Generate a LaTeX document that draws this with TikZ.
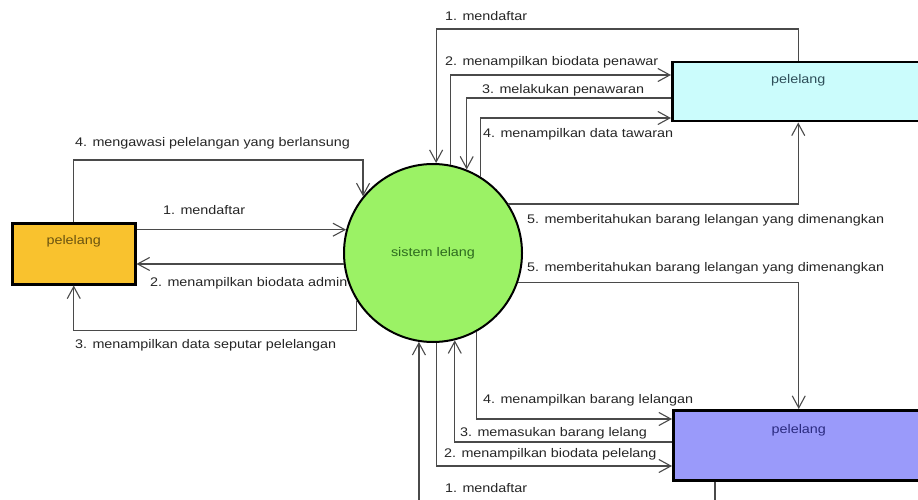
\documentclass[tikz,border=0pt]{standalone}
\usepackage{fontspec}
\usepackage{graphicx}
\setmainfont{Liberation Sans}
\usetikzlibrary{arrows.meta}
\definecolor{linegray}{HTML}{4A4A4A}
\definecolor{labgray}{HTML}{262626}
\definecolor{orangefill}{HTML}{F9C22E}
\definecolor{cyanfill}{HTML}{CBFCFC}
\definecolor{purplefill}{HTML}{9A9AFA}
\definecolor{greenfill}{HTML}{9BF265}
\definecolor{greentext}{HTML}{2E6B1F}
\definecolor{orangetext}{HTML}{6B5410}
\definecolor{cyantext}{HTML}{2F4F5A}
\definecolor{purpletext}{HTML}{2B2B80}
\newcommand\wtxt[1]{\scalebox{1.15}[1]{#1}}
\tikzset{
  flow/.style={draw=linegray, line width=1.2pt, -{Straight Barb[length=12pt,width=13pt,line width=1.1pt]}},
  lab/.style={anchor=west, inner sep=0pt, text=labgray, font=\fontsize{12.5}{14}\selectfont},
  entbox/.style={draw=black, line width=2.5pt, rectangle, inner xsep=0pt, inner ysep=0pt, anchor=north west, font=\fontsize{12.5}{14}\selectfont},
}
\begin{document}
\begin{tikzpicture}[x=1pt,y=-1pt]
\useasboundingbox (0,0) rectangle (918,500);
\clip (0,0) rectangle (918,500);

% nodes
\node[circle, draw=black, line width=2pt, fill=greenfill, minimum size=178pt, inner sep=0pt,
      text=greentext, font=\fontsize{12.5}{14}\selectfont] (c) at (433,253) {\wtxt{sistem lelang}};
\node[entbox, fill=orangefill, text=orangetext, minimum width=123pt, text height=21pt, text depth=40pt] (lb) at (11,222) {\wtxt{pelelang}};
\node[entbox, fill=cyanfill, text=cyantext, minimum width=252pt, text height=21pt, text depth=38pt] (tb) at (671,61) {\wtxt{pelelang}};
\node[entbox, fill=purplefill, text=purpletext, minimum width=251pt, text height=23pt, text depth=47pt] (bb) at (672,409) {\wtxt{pelelang}};

% top box flows
\draw[flow] (tb.north) -- ++(0,-32) -| (c.88.1);
\draw[flow] (c.79.6) |- ([yshift=-14pt]tb.north west);
\draw[flow] ([yshift=-37pt]tb.north west) -| (c.68.9);
\draw[flow] (c.58.1) |- ([yshift=-57pt]tb.north west);
\draw[flow] (c.33.4) -| (tb.south);

% bottom box flows
\draw[flow] (c.-19) -| (bb.north);
\draw[flow] (c.-61.1) |- ([yshift=-10pt]bb.north west);
\draw[flow] ([yshift=-33pt]bb.north west) -| (c.-76.4);
\draw[flow] (c.-88.1) |- ([yshift=-57pt]bb.north west);
\draw[flow] ([xshift=43pt]bb.south west) -- ++(0,35) -| (c.-99.7);

% left box flows
\draw[flow] (lb.north) -- ++(0,-62) -| (c.141.9);
\draw[flow] (lb.east |- c.165.7) -- (c.165.7);
\draw[flow] (c.187.7) -- (lb.east |- c.187.7);
\draw[flow] (c.212.6) -- ++(0,30) -| (lb.south);

% labels
\node[lab] (t1) at (445,16) {\wtxt{1. mendaftar}};
\node[lab] (t2) at (445,62) {\wtxt{2. menampilkan biodata penawar}};
\node[lab] (t3) at (482,90) {\wtxt{3. melakukan penawaran}};
\node[lab] (t4) at (483,134) {\wtxt{4. menampilkan data tawaran}};
\node[lab] (t5) at (527,220) {\wtxt{5. memberitahukan barang lelangan yang dimenangkan}};
\node[lab] (b5) at (527,268) {\wtxt{5. memberitahukan barang lelangan yang dimenangkan}};
\node[lab] (b4) at (483,400) {\wtxt{4. menampilkan barang lelangan}};
\node[lab] (b3) at (460,433) {\wtxt{3. memasukan barang lelang}};
\node[lab] (b2) at (444,454) {\wtxt{2. menampilkan biodata pelelang}};
\node[lab] (b1) at (445,488) {\wtxt{1. mendaftar}};
\node[lab] (l4) at (75,143) {\wtxt{4. mengawasi pelelangan yang berlansung}};
\node[lab] (l1) at (163,210) {\wtxt{1. mendaftar}};
\node[lab] (l2) at (150,283) {\wtxt{2. menampilkan biodata admin}};
\node[lab] (l3) at (75,345) {\wtxt{3. menampilkan data seputar pelelangan}};
\end{tikzpicture}
\end{document}
